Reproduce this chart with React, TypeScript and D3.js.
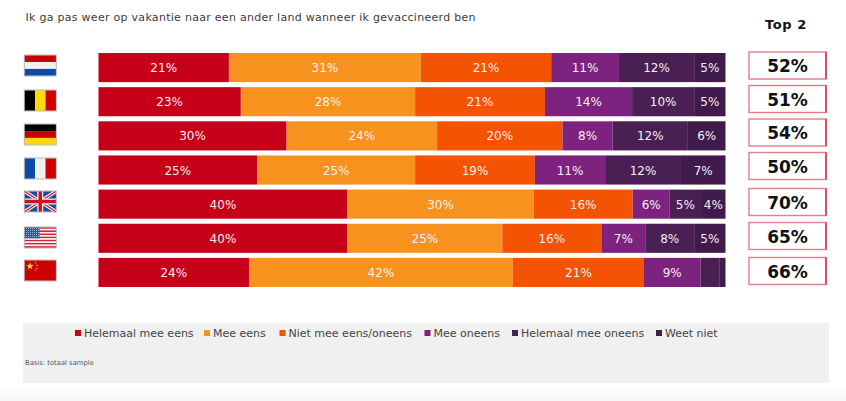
import React from "react";
import * as d3 from "d3";

const countries = ["NL", "BE", "DE", "FR", "UK", "US", "CN"];
const seriesNames = ["Helemaal mee eens", "Mee eens", "Niet mee eens/oneens", "Mee oneens", "Helemaal mee oneens", "Weet niet"];
const colors = ["#c60018", "#f7921e", "#f45303", "#7d237f", "#4a1f53", "#3f1a4b"];

const helemaalEens = [20.8, 22.7, 30, 25.3, 39.7, 39.7, 24];
const meeEens = [30.6, 27.8, 24, 25.2, 29.7, 24.7, 42.1];
const neutraal = [20.8, 20.7, 20, 19.1, 15.8, 15.8, 20.9];
const meeOneens = [10.8, 13.9, 8, 11.2, 5.9, 7, 9];
const helemaalOneens = [12, 9.9, 12, 12.1, 5, 7.8, 3];
const weetNiet = [5, 5, 6, 7.1, 3.9, 5, 1];
const top2 = [52, 51, 54, 50, 70, 65, 66];
const seriesValues = [helemaalEens, meeEens, neutraal, meeOneens, helemaalOneens, weetNiet];

const title = "Ik ga pas weer op vakantie naar een ander land wanneer ik gevaccineerd ben";
const legendX = [75, 204, 279.5, 424.5, 512, 656];
const boxCenters = [65.5, 99, 132.5, 166, 202, 236, 271];
const flagCenters = [65.5, 100.5, 134.5, 168.5, 201.5, 237.5, 270.5];
const FONT = "'DejaVu Sans', Verdana, sans-serif";

const rows = countries.map((c, i) => {
  const r: any = { country: c };
  seriesNames.forEach((s, j) => (r[s] = seriesValues[j][i]));
  return r;
});
const stacked = d3.stack<any>().keys(seriesNames)(rows);
const x = d3.scaleLinear().domain([0, 100]).range([98.5, 725.5]);
const y = d3.scaleBand<string>().domain(countries).range([53, 287]).paddingInner(5 / 34);

function Flag({ code, cy }: { code: string; cy: number }) {
  const w = 31.5, h = 20.5, X = 24.5, Y = cy - h / 2;
  const body: React.ReactNode[] = [];
  const hs = (cs: string[]) => cs.forEach((c, i) => body.push(<rect key={i} x={X} y={Y + (i * h) / cs.length} width={w} height={h / cs.length} fill={c} />));
  const vs = (cs: string[]) => cs.forEach((c, i) => body.push(<rect key={i} x={X + (i * w) / cs.length} y={Y} width={w / cs.length} height={h} fill={c} />));
  if (code === "NL") hs(["#cc0000", "#f0f0f0", "#0b4ba5"]);
  if (code === "BE") vs(["#000000", "#ffd90c", "#cc0000"]);
  if (code === "DE") hs(["#000000", "#cc0000", "#ffd90c"]);
  if (code === "FR") vs(["#0b4ba5", "#f0f0f0", "#cc0000"]);
  if (code === "UK") {
    body.push(<rect key="b" x={X} y={Y} width={w} height={h} fill="#1f4a9c" />);
    body.push(<path key="d1" d={`M${X} ${Y}L${X + w} ${Y + h}M${X + w} ${Y}L${X} ${Y + h}`} stroke="#f0f0f0" strokeWidth={3.5} />);
    body.push(<path key="d2" d={`M${X} ${Y}L${X + w} ${Y + h}M${X + w} ${Y}L${X} ${Y + h}`} stroke="#cc1122" strokeWidth={1.2} />);
    body.push(<path key="c1" d={`M${X + w / 2} ${Y}V${Y + h}M${X} ${Y + h / 2}H${X + w}`} stroke="#f0f0f0" strokeWidth={6} />);
    body.push(<path key="c2" d={`M${X + w / 2} ${Y}V${Y + h}M${X} ${Y + h / 2}H${X + w}`} stroke="#cc1122" strokeWidth={3.4} />);
  }
  if (code === "US") {
    d3.range(13).forEach((i) => body.push(<rect key={i} x={X} y={Y + (i * h) / 13} width={w} height={h / 13} fill={i % 2 ? "#f2f2f2" : "#cc2233"} />));
    body.push(<rect key="c" x={X} y={Y} width={15} height={11} fill="#2a56a8" />);
    body.push(<rect key="d" x={X} y={Y} width={15} height={11} fill="url(#usStars)" />);
  }
  if (code === "CN") {
    body.push(<rect key="r" x={X} y={Y} width={w} height={h} fill="#cc0000" />);
    body.push(<path key="s" d={d3.symbol(d3.symbolStar, 18)() as string} transform={`translate(${X + 5.5},${Y + 6})`} fill="#ffd90c" />);
    [[11, 2.5], [12.5, 5], [12.5, 8], [11, 10]].forEach(([dx, dy], i) => body.push(<circle key={i} cx={X + dx} cy={Y + dy} r={0.7} fill="#ffd90c" />));
  }
  return (
    <g>
      {body}
      <rect x={X - 0.25} y={Y - 0.25} width={w + 0.5} height={h + 0.5} fill="none" stroke="#a8a8a8" strokeWidth={0.8} />
    </g>
  );
}

export default function App() {
  return (
    <svg width={846} height={401} style={{ position: "absolute", left: 0, top: 0, display: "block" }} fontFamily={FONT}>
      <defs>
        <linearGradient id="foot" x1="0" x2="0" y1="0" y2="1">
          <stop offset="0" stopColor="#ffffff" />
          <stop offset="1" stopColor="#f5f5f5" />
        </linearGradient>
        <pattern id="usStars" width="2" height="2" patternUnits="userSpaceOnUse">
          <rect x={0} y={0} width={1} height={1} fill="#9fb4dd" />
        </pattern>
      </defs>
      <rect width={846} height={401} fill="#fff" />
      <rect x={0} y={383} width={846} height={18} fill="url(#foot)" />
      <rect x={23} y={323} width={806} height={60} fill="#f0f0f0" />

      <text x={25.5} y={21} fontSize={11} fill="#3c3c3c" textLength={450} lengthAdjust="spacing">{title}</text>
      <text x={786} y={29} fontSize={13} fontWeight="bold" fill="#111" textAnchor="middle" letterSpacing={0.6}>Top 2</text>

      {countries.map((c, i) => <Flag key={c} code={c} cy={flagCenters[i]} />)}

      {stacked.map((s, j) => (
        <g key={s.key} fill={colors[j]}>
          {s.map((d, i) => {
            const c = countries[i];
            const v = seriesValues[j][i];
            const x0 = x(d[0]), x1 = x(d[1]);
            return (
              <g key={c}>
                <rect x={x0} y={y(c)} width={x1 - x0} height={y.bandwidth()} />
                {v >= 3.5 && (
                  <text x={(x0 + x1) / 2} y={y(c)! + y.bandwidth() / 2 + 4.5} textAnchor="middle" fontSize={12} fill="#f4f0f2">
                    {Math.round(v)}%
                  </text>
                )}
              </g>
            );
          })}
        </g>
      ))}

      {top2.map((v, i) => {
        const t = boxCenters[i] - 13.5;
        return (
          <g key={countries[i]}>
            <rect x={749} y={t} width={77} height={27} fill="#fff" stroke="#e27d8c" strokeWidth={1.4} />
            <line x1={826} x2={826} y1={t} y2={t + 27} stroke="#c60018" strokeWidth={1} />
            <text x={787.5} y={boxCenters[i] + 6.5} textAnchor="middle" fontSize={17} fontWeight="bold" fill="#111">{v}%</text>
          </g>
        );
      })}

      {seriesNames.map((n, j) => (
        <g key={n}>
          <rect x={legendX[j]} y={330} width={6} height={6} fill={colors[j]} />
          <text x={legendX[j] + 9} y={337} fontSize={11} fill="#444">{n}</text>
        </g>
      ))}
      <text x={25} y={365} fontSize={6.8} fill="#555">Basis: totaal sample</text>
    </svg>
  );
}
